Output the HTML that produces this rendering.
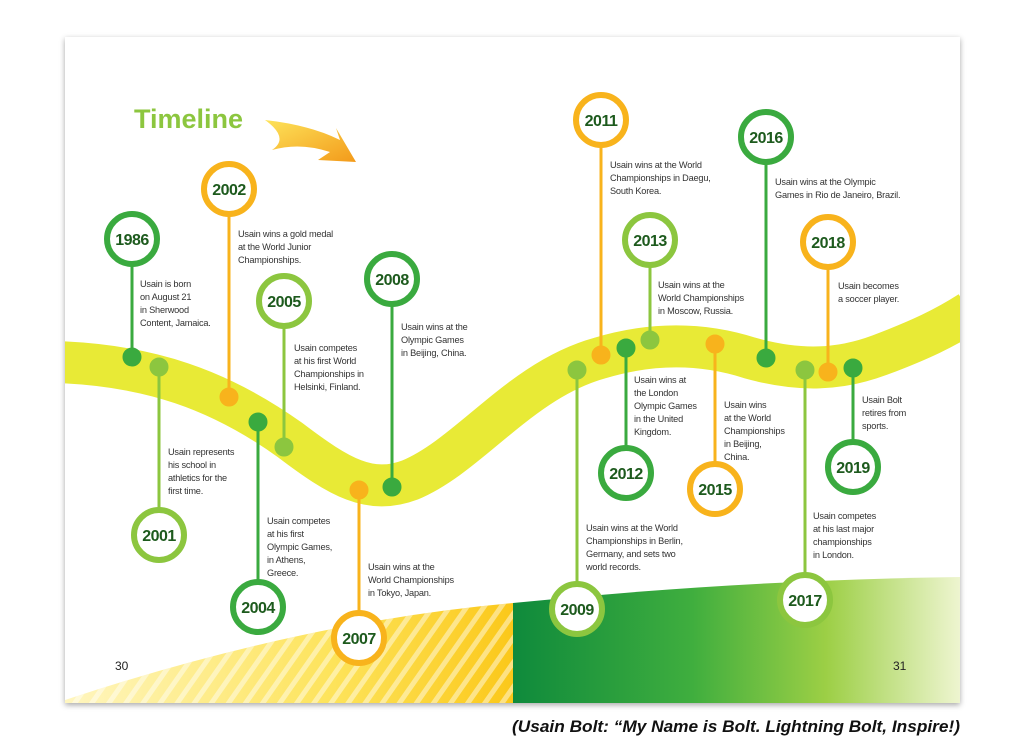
<!DOCTYPE html>
<html><head><meta charset="utf-8"><style>
html,body{margin:0;padding:0;background:#fff;width:1024px;height:741px;overflow:hidden}
svg{display:block}
.t{font-family:"Liberation Sans",sans-serif;font-size:9.2px;fill:#333;letter-spacing:-0.2px}
.y{font-family:"Liberation Sans",sans-serif;font-size:16px;font-weight:bold;fill:#1d5a1d;text-anchor:middle;letter-spacing:-0.5px}
</style></head><body>
<svg width="1024" height="741" viewBox="0 0 1024 741" xmlns="http://www.w3.org/2000/svg">
<defs>
<filter id="sh" x="-5%" y="-5%" width="110%" height="110%"><feDropShadow dx="0" dy="2" stdDeviation="3" flood-color="#000" flood-opacity="0.35"/></filter>
<clipPath id="pg"><rect x="65" y="37" width="895" height="666"/></clipPath>
<linearGradient id="yl" x1="0" y1="0" x2="1" y2="0"><stop offset="0" stop-color="#fff6c0"/><stop offset="0.6" stop-color="#fde35a"/><stop offset="1" stop-color="#fbc81a"/></linearGradient>
<linearGradient id="gr" x1="0" y1="0" x2="1" y2="0"><stop offset="0" stop-color="#0f8a3c"/><stop offset="0.4" stop-color="#3fae3e"/><stop offset="0.7" stop-color="#9ccf45"/><stop offset="1" stop-color="#eef5d0"/></linearGradient>
<pattern id="st" width="14" height="14" patternUnits="userSpaceOnUse" patternTransform="rotate(35)"><rect width="5" height="14" fill="#fff" opacity="0.45"/></pattern>
<linearGradient id="ar" x1="0" y1="0" x2="1" y2="1"><stop offset="0" stop-color="#fde35a"/><stop offset="1" stop-color="#f39a1a"/></linearGradient>
</defs>
<rect x="65" y="37" width="895" height="666" fill="#fff" filter="url(#sh)"/>
<g clip-path="url(#pg)">
<path d="M65,703 L65,700 Q300,622 513,603 L513,703 Z" fill="url(#yl)"/>
<path d="M65,703 L65,700 Q300,622 513,603 L513,703 Z" fill="url(#st)"/>
<path d="M513,603 Q740,580 960,577 L960,703 L513,703 Z" fill="url(#gr)"/>
<path d="M55,362 C150,365 220,390 290,440 C340,478 370,495 410,480 C470,455 520,380 600,358 C650,343 700,342 750,358 C800,372 840,370 880,355 C920,340 945,328 970,312" fill="none" stroke="#e8ea36" stroke-width="42"/>
</g>
<text x="134" y="128" font-family="Liberation Sans,sans-serif" font-size="27" font-weight="bold" fill="#8cc63f">Timeline</text>
<path d="M265,120 Q310,125 340,140 L336,128 L356,162 L318,160 L330,152 Q300,142 272,150 Q290,138 265,120 Z" fill="url(#ar)"/>
<g stroke-linecap="round">
<g stroke="#3aaa3f" fill="#3aaa3f"><line x1="132" y1="262" x2="132" y2="357" stroke-width="3"/><circle cx="132" cy="357" r="9"/><circle cx="132" cy="239" r="25" fill="#fff" stroke-width="6"/></g>
<g stroke="#8cc63f" fill="#8cc63f"><line x1="159" y1="367" x2="159" y2="512" stroke-width="3"/><circle cx="159" cy="367" r="9"/><circle cx="159" cy="535" r="25" fill="#fff" stroke-width="6"/></g>
<g stroke="#f8b31c" fill="#f8b31c"><line x1="229" y1="212" x2="229" y2="397" stroke-width="3"/><circle cx="229" cy="397" r="9"/><circle cx="229" cy="189" r="25" fill="#fff" stroke-width="6"/></g>
<g stroke="#3aaa3f" fill="#3aaa3f"><line x1="258" y1="422" x2="258" y2="584" stroke-width="3"/><circle cx="258" cy="422" r="9"/><circle cx="258" cy="607" r="25" fill="#fff" stroke-width="6"/></g>
<g stroke="#8cc63f" fill="#8cc63f"><line x1="284" y1="324" x2="284" y2="447" stroke-width="3"/><circle cx="284" cy="447" r="9"/><circle cx="284" cy="301" r="25" fill="#fff" stroke-width="6"/></g>
<g stroke="#f8b31c" fill="#f8b31c"><line x1="359" y1="490" x2="359" y2="615" stroke-width="3"/><circle cx="359" cy="490" r="9"/><circle cx="359" cy="638" r="25" fill="#fff" stroke-width="6"/></g>
<g stroke="#3aaa3f" fill="#3aaa3f"><line x1="392" y1="302" x2="392" y2="487" stroke-width="3"/><circle cx="392" cy="487" r="9"/><circle cx="392" cy="279" r="25" fill="#fff" stroke-width="6"/></g>
<g stroke="#8cc63f" fill="#8cc63f"><line x1="577" y1="370" x2="577" y2="586" stroke-width="3"/><circle cx="577" cy="370" r="9"/><circle cx="577" cy="609" r="25" fill="#fff" stroke-width="6"/></g>
<g stroke="#f8b31c" fill="#f8b31c"><line x1="601" y1="143" x2="601" y2="355" stroke-width="3"/><circle cx="601" cy="355" r="9"/><circle cx="601" cy="120" r="25" fill="#fff" stroke-width="6"/></g>
<g stroke="#3aaa3f" fill="#3aaa3f"><line x1="626" y1="348" x2="626" y2="450" stroke-width="3"/><circle cx="626" cy="348" r="9"/><circle cx="626" cy="473" r="25" fill="#fff" stroke-width="6"/></g>
<g stroke="#8cc63f" fill="#8cc63f"><line x1="650" y1="263" x2="650" y2="340" stroke-width="3"/><circle cx="650" cy="340" r="9"/><circle cx="650" cy="240" r="25" fill="#fff" stroke-width="6"/></g>
<g stroke="#f8b31c" fill="#f8b31c"><line x1="715" y1="344" x2="715" y2="466" stroke-width="3"/><circle cx="715" cy="344" r="9"/><circle cx="715" cy="489" r="25" fill="#fff" stroke-width="6"/></g>
<g stroke="#3aaa3f" fill="#3aaa3f"><line x1="766" y1="160" x2="766" y2="358" stroke-width="3"/><circle cx="766" cy="358" r="9"/><circle cx="766" cy="137" r="25" fill="#fff" stroke-width="6"/></g>
<g stroke="#8cc63f" fill="#8cc63f"><line x1="805" y1="370" x2="805" y2="577" stroke-width="3"/><circle cx="805" cy="370" r="9"/><circle cx="805" cy="600" r="25" fill="#fff" stroke-width="6"/></g>
<g stroke="#f8b31c" fill="#f8b31c"><line x1="828" y1="265" x2="828" y2="372" stroke-width="3"/><circle cx="828" cy="372" r="9"/><circle cx="828" cy="242" r="25" fill="#fff" stroke-width="6"/></g>
<g stroke="#3aaa3f" fill="#3aaa3f"><line x1="853" y1="368" x2="853" y2="444" stroke-width="3"/><circle cx="853" cy="368" r="9"/><circle cx="853" cy="467" r="25" fill="#fff" stroke-width="6"/></g>
</g>
<g class="y">
<text x="132" y="245">1986</text><text x="159" y="541">2001</text><text x="229" y="195">2002</text><text x="258" y="613">2004</text>
<text x="284" y="307">2005</text><text x="359" y="644">2007</text><text x="392" y="285">2008</text><text x="577" y="615">2009</text>
<text x="601" y="126">2011</text><text x="626" y="479">2012</text><text x="650" y="246">2013</text><text x="715" y="495">2015</text>
<text x="766" y="143">2016</text><text x="805" y="606">2017</text><text x="828" y="248">2018</text><text x="853" y="473">2019</text>
</g>
<g class="t">
<text x="140" y="287">Usain is born<tspan x="140" dy="13">on August 21</tspan><tspan x="140" dy="13">in Sherwood</tspan><tspan x="140" dy="13">Content, Jamaica.</tspan></text>
<text x="168" y="455">Usain represents<tspan x="168" dy="13">his school in</tspan><tspan x="168" dy="13">athletics for the</tspan><tspan x="168" dy="13">first time.</tspan></text>
<text x="238" y="237">Usain wins a gold medal<tspan x="238" dy="13">at the World Junior</tspan><tspan x="238" dy="13">Championships.</tspan></text>
<text x="267" y="524">Usain competes<tspan x="267" dy="13">at his first</tspan><tspan x="267" dy="13">Olympic Games,</tspan><tspan x="267" dy="13">in Athens,</tspan><tspan x="267" dy="13">Greece.</tspan></text>
<text x="294" y="351">Usain competes<tspan x="294" dy="13">at his first World</tspan><tspan x="294" dy="13">Championships in</tspan><tspan x="294" dy="13">Helsinki, Finland.</tspan></text>
<text x="368" y="570">Usain wins at the<tspan x="368" dy="13">World Championships</tspan><tspan x="368" dy="13">in Tokyo, Japan.</tspan></text>
<text x="401" y="330">Usain wins at the<tspan x="401" dy="13">Olympic Games</tspan><tspan x="401" dy="13">in Beijing, China.</tspan></text>
<text x="586" y="531">Usain wins at the World<tspan x="586" dy="13">Championships in Berlin,</tspan><tspan x="586" dy="13">Germany, and sets two</tspan><tspan x="586" dy="13">world records.</tspan></text>
<text x="610" y="168">Usain wins at the World<tspan x="610" dy="13">Championships in Daegu,</tspan><tspan x="610" dy="13">South Korea.</tspan></text>
<text x="634" y="383">Usain wins at<tspan x="634" dy="13">the London</tspan><tspan x="634" dy="13">Olympic Games</tspan><tspan x="634" dy="13">in the United</tspan><tspan x="634" dy="13">Kingdom.</tspan></text>
<text x="658" y="288">Usain wins at the<tspan x="658" dy="13">World Championships</tspan><tspan x="658" dy="13">in Moscow, Russia.</tspan></text>
<text x="724" y="408">Usain wins<tspan x="724" dy="13">at the World</tspan><tspan x="724" dy="13">Championships</tspan><tspan x="724" dy="13">in Beijing,</tspan><tspan x="724" dy="13">China.</tspan></text>
<text x="775" y="185">Usain wins at the Olympic<tspan x="775" dy="13">Games in Rio de Janeiro, Brazil.</tspan></text>
<text x="813" y="519">Usain competes<tspan x="813" dy="13">at his last major</tspan><tspan x="813" dy="13">championships</tspan><tspan x="813" dy="13">in London.</tspan></text>
<text x="838" y="289">Usain becomes<tspan x="838" dy="13">a soccer player.</tspan></text>
<text x="862" y="403">Usain Bolt<tspan x="862" dy="13">retires from</tspan><tspan x="862" dy="13">sports.</tspan></text>
</g>
<text x="115" y="670" font-family="Liberation Sans,sans-serif" font-size="12" fill="#222">30</text>
<text x="893" y="670" font-family="Liberation Sans,sans-serif" font-size="12" fill="#222">31</text>
<text x="512" y="732" textLength="448" lengthAdjust="spacingAndGlyphs" font-family="Liberation Sans,sans-serif" font-size="17" font-weight="bold" font-style="italic" fill="#111">(Usain Bolt: “My Name is Bolt. Lightning Bolt, Inspire!)</text>
</svg>
</body></html>
